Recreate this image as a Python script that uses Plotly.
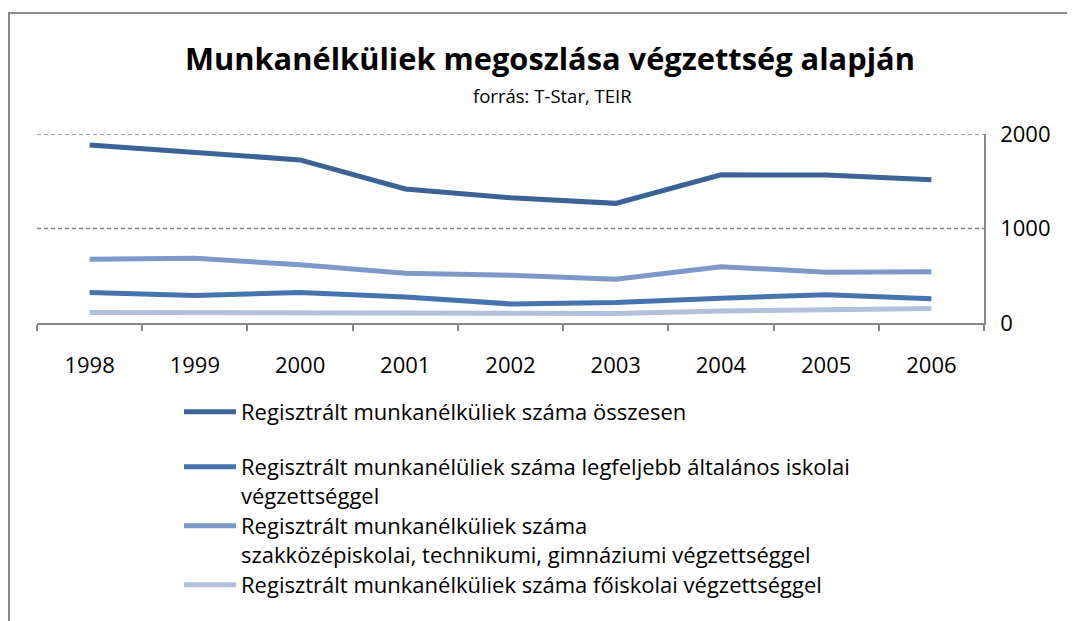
import plotly.graph_objects as go

years = ["1998", "1999", "2000", "2001", "2002", "2003", "2004", "2005", "2006"]

total = [1884, 1811, 1726, 1418, 1326, 1266, 1568, 1565, 1516]
altalanos = [322, 291, 322, 274, 202, 217, 263, 298, 256]
szakkozep = [674, 684, 617, 526, 505, 463, 596, 537, 543]
foiskolai = [112, 112, 105, 101, 105, 100, 126, 140, 154]

names = [
    "Regisztrált munkanélküliek száma összesen",
    "Regisztrált munkanélüliek száma legfeljebb általános iskolai<br>végzettséggel",
    "Regisztrált munkanélküliek száma<br>szakközépiskolai, technikumi, gimnáziumi végzettséggel",
    "Regisztrált munkanélküliek száma főiskolai végzettséggel",
]
series = [total, altalanos, szakkozep, foiskolai]
colors = ["#3C6396", "#4674AE", "#7B9ACA", "#AFC1DD"]
legend_ids = ["legend", "legend2", "legend3", "legend4"]

y_ticks = [0, 1000, 2000]

FONT = "Open Sans"
OFF = 8  # page body margin

# target page-pixel geometry of the plot area
W, H = 1075, 621
L, R, T, B = 37 - OFF, 984 - OFF, 134 - OFF, 323 - OFF
pw, ph = R - L, B - T


def px_x(px):
    return (px - OFF - L) / pw


def px_y(py):
    return (B - (py - OFF)) / ph


fig = go.Figure()
for name, vals, col, lg in zip(names, series, colors, legend_ids):
    fig.add_trace(go.Scatter(
        x=years, y=vals, name=name, mode="lines",
        line=dict(color=col, width=5),
        hoverinfo="skip", legend=lg,
    ))

legend_tops = [391, 446, 505, 564]
legend_common = dict(
    xanchor="left", yanchor="top", valign="top",
    font=dict(family=FONT, size=22, color="black"),
    bgcolor="rgba(0,0,0,0)", itemwidth=52, borderwidth=0,
)
legends = {}
for lg, top in zip(legend_ids, legend_tops):
    legends[lg] = dict(x=px_x(179), y=px_y(top), **legend_common)

grid_shapes = [
    dict(type="line", xref="paper", yref="y", x0=0, x1=1, y0=v, y1=v,
         line=dict(color="#808080", width=1.5, dash="4px,3px"), layer="below")
    for v in y_ticks if v > 0
]

fig.update_layout(
    width=W, height=H,
    margin=dict(l=L, r=W - R, t=T, b=H - B, pad=0),
    paper_bgcolor="white", plot_bgcolor="white",
    font=dict(family=FONT, size=22, color="black"),
    showlegend=True,
    xaxis=dict(
        type="category", showline=True, linecolor="#878787", linewidth=1.5,
        ticks="outside", ticklen=6, tickcolor="#878787", tickwidth=1.5,
        tickson="boundaries", showgrid=False, zeroline=False,
        ticklabelstandoff=22, tickfont=dict(size=22),
        range=[-0.5, 8.5],
    ),
    yaxis=dict(
        side="right", range=[0, 2000], tickvals=y_ticks,
        showgrid=False,
        showline=True, linecolor="#878787", linewidth=1.5,
        ticks="", zeroline=False, ticklabelstandoff=10,
        tickfont=dict(size=22),
    ),
    annotations=[
        dict(text="<b>Munkanélküliek megoszlása végzettség alapján</b>",
             x=px_x(550), y=px_y(58), xref="paper", yref="paper",
             xanchor="center", yanchor="middle", showarrow=False,
             font=dict(family=FONT, size=30.8, color="black")),
        dict(text="forrás: T-Star, TEIR",
             x=px_x(552), y=px_y(95), xref="paper", yref="paper",
             xanchor="center", yanchor="middle", showarrow=False,
             font=dict(family=FONT, size=18.5, color="black")),
    ],
    shapes=[
        dict(type="rect", xref="paper", yref="paper",
             x0=px_x(9), x1=px_x(1100), y0=px_y(660), y1=px_y(13),
             line=dict(color="#878787", width=2), fillcolor="rgba(0,0,0,0)",
             layer="below"),
    ] + grid_shapes,
    **legends,
)

fig.write_html("out.html")
